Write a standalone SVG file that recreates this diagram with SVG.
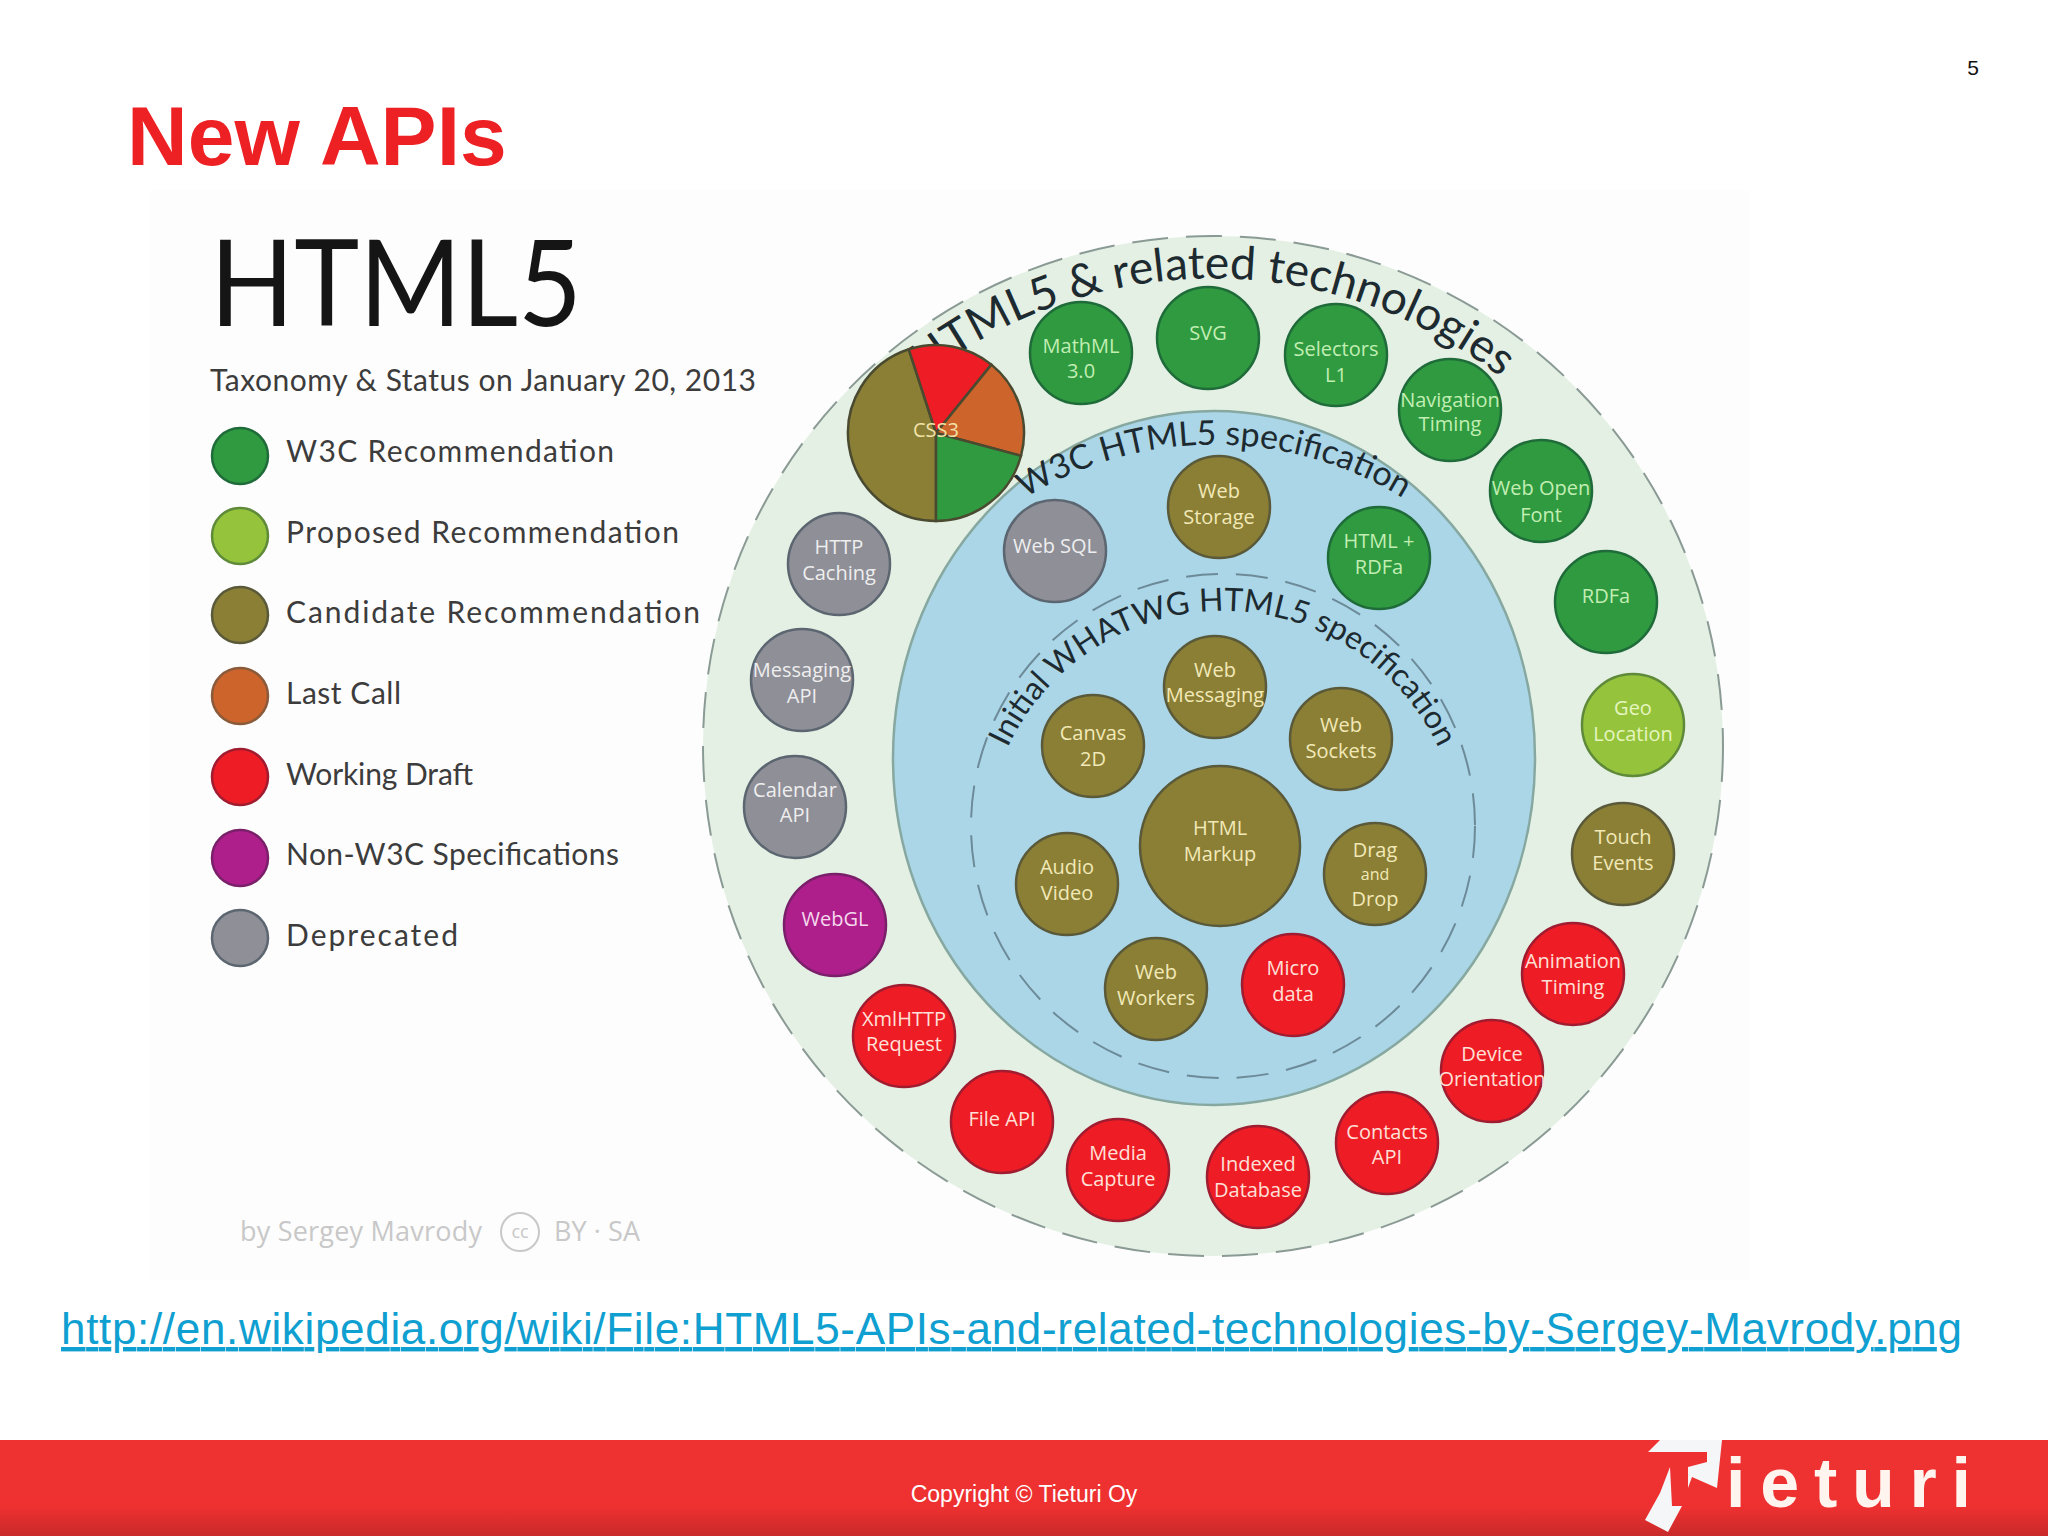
<svg xmlns="http://www.w3.org/2000/svg" width="2048" height="1536" viewBox="0 0 2048 1536">
<defs>
<linearGradient id="bar" x1="0" y1="0" x2="0" y2="1"><stop offset="0" stop-color="#ee3232"/><stop offset=".7" stop-color="#ee3030"/><stop offset="1" stop-color="#c82a2a"/></linearGradient>
<path id="arcOuter" d="M808,512 A468,468 0 0 1 1618,512"/>
<path id="arcW3C" d="M902,625 A360,360 0 0 1 1526,625"/>
<path id="arcWhat" d="M985,849 A238,238 0 0 1 1461,849"/>
</defs>
<style>
text{font-family:"Open Sans","Liberation Sans",sans-serif}
.n{stroke-width:2.5}
.t{font-size:20px;text-anchor:middle}
.g circle{fill:#2f9a3f;stroke:#1f6b3a}.g text{fill:#c2eeb4}
.l circle{fill:#95c43c;stroke:#5f8a3a}.l text{fill:#e6f5c0}
.o circle{fill:#8a7f35;stroke:#5a5a3a}.o text{fill:#f2e9b8}
.r circle{fill:#ee1c25;stroke:#a01c30}.r text{fill:#ffe0d8}
.m circle{fill:#ae1f8b;stroke:#7a1f6a}.m text{fill:#f5d8ee}
.d circle{fill:#8f8f98;stroke:#5c6670}.d text{fill:#eeeeee}
.leg{font-family:Lato,"Open Sans",sans-serif;font-size:30px;fill:#3c3c3c}
.cur{font-family:Lato,"Open Sans",sans-serif;fill:#1d2a30;text-anchor:middle}
.pie{stroke:#4a4a30;stroke-width:2.5}
</style>
<rect width="2048" height="1536" fill="#ffffff"/>
<rect x="150" y="190" width="1600" height="1090" fill="#fdfdfd"/>

<text x="127" y="165" font-family="Liberation Sans" font-weight="700" font-size="84" fill="#ed2024" style="font-family:'Liberation Sans',sans-serif">New APIs</text>
<text x="1973" y="75" style="font-family:'Liberation Sans',sans-serif;font-size:21px;text-anchor:middle" fill="#111">5</text>

<g id="legend">
<text x="210" y="326" textLength="372" lengthAdjust="spacingAndGlyphs" style="font-family:Lato,sans-serif;font-size:120px" fill="#151515">HTML5</text>
<text x="210" y="391" textLength="546" class="leg">Taxonomy &amp; Status on January 20, 2013</text>
<g class="g"><circle class="n" cx="240" cy="456" r="28"/></g><text class="leg" x="286" y="462" textLength="328">W3C Recommendation</text>
<g class="l"><circle class="n" cx="240" cy="536" r="28"/></g><text class="leg" x="286" y="543" textLength="393">Proposed Recommendation</text>
<g class="o"><circle class="n" cx="240" cy="615" r="28"/></g><text class="leg" x="286" y="623" textLength="414">Candidate Recommendation</text>
<circle class="n" cx="240" cy="696" r="28" fill="#cc642c" stroke="#8a5a3a"/><text class="leg" x="286" y="704" textLength="115">Last Call</text>
<g class="r"><circle class="n" cx="240" cy="777" r="28"/></g><text class="leg" x="286" y="785" textLength="187">Working Draft</text>
<g class="m"><circle class="n" cx="240" cy="858" r="28"/></g><text class="leg" x="286" y="865" textLength="333">Non-W3C Specifications</text>
<g class="d"><circle class="n" cx="240" cy="938" r="28"/></g><text class="leg" x="286" y="946" textLength="172">Deprecated</text>
</g>

<g id="credit" fill="#c8c8c8">
<text x="240" y="1241" font-size="27" textLength="242">by Sergey Mavrody</text>
<circle cx="520" cy="1232" r="19" fill="none" stroke="#c8c8c8" stroke-width="2"/>
<text x="520" y="1238" font-size="18" text-anchor="middle">cc</text>
<text x="554" y="1241" font-size="27" textLength="86">BY · SA</text>
</g>

<g id="rings">
<circle cx="1213" cy="746" r="510" fill="#e4f0e4"/>
<circle cx="1213" cy="746" r="510" fill="none" stroke="#8a9a94" stroke-width="2" stroke-dasharray="36 18"/>
<ellipse cx="1214" cy="758" rx="321" ry="347" fill="#aad6e8" stroke="#86a8a0" stroke-width="2.5"/>
<circle cx="1223" cy="826" r="252" fill="none" stroke="#6d8a98" stroke-width="2" stroke-dasharray="32 18"/>
<text class="cur" font-size="46"><textPath href="#arcOuter" startOffset="50%">HTML5 &amp; related technologies</textPath></text>
<text class="cur" font-size="34"><textPath href="#arcW3C" startOffset="50%">W3C HTML5 specification</textPath></text>
<text class="cur" font-size="32"><textPath href="#arcWhat" startOffset="50%">Initial WHATWG HTML5 specification</textPath></text>
</g>

<g id="css3">
<path class="pie" fill="#8a7f35" d="M936,433 L936,521 A88,88 0 0 1 908.8,349.3 Z"/>
<path class="pie" fill="#ee1c25" d="M936,433 L908.8,349.3 A88,88 0 0 1 991.4,364.6 Z"/>
<path class="pie" fill="#cc642c" d="M936,433 L991.4,364.6 A88,88 0 0 1 1021,455.8 Z"/>
<path class="pie" fill="#2f9a3f" d="M936,433 L1021,455.8 A88,88 0 0 1 936,521 Z"/>
<text class="t" x="936" y="437" fill="#f2e2a8">CSS3</text>
</g>

<g id="mathml" class="g"><circle class="n" cx="1081" cy="353" r="51"/><text class="t" x="1081" y="353">MathML</text><text class="t" x="1081" y="378">3.0</text></g>
<g id="svg" class="g"><circle class="n" cx="1208" cy="338" r="51"/><text class="t" x="1208" y="340">SVG</text></g>
<g id="selectors" class="g"><circle class="n" cx="1336" cy="355" r="51"/><text class="t" x="1336" y="356">Selectors</text><text class="t" x="1336" y="382">L1</text></g>
<g id="navigation" class="g"><circle class="n" cx="1450" cy="410" r="51"/><text class="t" x="1450" y="407">Navigation</text><text class="t" x="1450" y="431">Timing</text></g>
<g id="webopenfont" class="g"><circle class="n" cx="1541" cy="491" r="51"/><text class="t" x="1541" y="495">Web Open</text><text class="t" x="1541" y="522">Font</text></g>
<g id="rdfa" class="g"><circle class="n" cx="1606" cy="602" r="51"/><text class="t" x="1606" y="603">RDFa</text></g>
<g id="geo" class="l"><circle class="n" cx="1633" cy="725" r="51"/><text class="t" x="1633" y="715">Geo</text><text class="t" x="1633" y="741">Location</text></g>
<g id="touch" class="o"><circle class="n" cx="1623" cy="854" r="51"/><text class="t" x="1623" y="844">Touch</text><text class="t" x="1623" y="870">Events</text></g>
<g id="animation" class="r"><circle class="n" cx="1573" cy="974" r="51"/><text class="t" x="1573" y="968">Animation</text><text class="t" x="1573" y="994">Timing</text></g>
<g id="device" class="r"><circle class="n" cx="1492" cy="1071" r="51"/><text class="t" x="1492" y="1061">Device</text><text class="t" x="1492" y="1086">Orientation</text></g>
<g id="contacts" class="r"><circle class="n" cx="1387" cy="1143" r="51"/><text class="t" x="1387" y="1139">Contacts</text><text class="t" x="1387" y="1164">API</text></g>
<g id="indexed" class="r"><circle class="n" cx="1258" cy="1177" r="51"/><text class="t" x="1258" y="1171">Indexed</text><text class="t" x="1258" y="1197">Database</text></g>
<g id="media" class="r"><circle class="n" cx="1118" cy="1170" r="51"/><text class="t" x="1118" y="1160">Media</text><text class="t" x="1118" y="1186">Capture</text></g>
<g id="fileapi" class="r"><circle class="n" cx="1002" cy="1122" r="51"/><text class="t" x="1002" y="1126">File API</text></g>
<g id="xhr" class="r"><circle class="n" cx="904" cy="1036" r="51"/><text class="t" x="904" y="1026">XmlHTTP</text><text class="t" x="904" y="1051">Request</text></g>
<g id="webgl" class="m"><circle class="n" cx="835" cy="925" r="51"/><text class="t" x="835" y="926">WebGL</text></g>
<g id="calendar" class="d"><circle class="n" cx="795" cy="807" r="51"/><text class="t" x="795" y="797">Calendar</text><text class="t" x="795" y="822">API</text></g>
<g id="messaging" class="d"><circle class="n" cx="802" cy="680" r="51"/><text class="t" x="802" y="677">Messaging</text><text class="t" x="802" y="703">API</text></g>
<g id="http" class="d"><circle class="n" cx="839" cy="564" r="51"/><text class="t" x="839" y="554">HTTP</text><text class="t" x="839" y="580">Caching</text></g>
<g id="websql" class="d"><circle class="n" cx="1055" cy="551" r="51"/><text class="t" x="1055" y="553">Web SQL</text></g>
<g id="webstorage" class="o"><circle class="n" cx="1219" cy="507" r="51"/><text class="t" x="1219" y="498">Web</text><text class="t" x="1219" y="524">Storage</text></g>
<g id="htmlrdfa" class="g"><circle class="n" cx="1379" cy="558" r="51"/><text class="t" x="1379" y="548">HTML +</text><text class="t" x="1379" y="574">RDFa</text></g>
<g id="webmessaging" class="o"><circle class="n" cx="1215" cy="687" r="51"/><text class="t" x="1215" y="677">Web</text><text class="t" x="1215" y="702">Messaging</text></g>
<g id="canvas" class="o"><circle class="n" cx="1093" cy="746" r="51"/><text class="t" x="1093" y="740">Canvas</text><text class="t" x="1093" y="766">2D</text></g>
<g id="websockets" class="o"><circle class="n" cx="1341" cy="739" r="51"/><text class="t" x="1341" y="732">Web</text><text class="t" x="1341" y="758">Sockets</text></g>
<g id="markup" class="o"><circle class="n" cx="1220" cy="846" r="80"/><text class="t" x="1220" y="835">HTML</text><text class="t" x="1220" y="861">Markup</text></g>
<g id="audiovideo" class="o"><circle class="n" cx="1067" cy="884" r="51"/><text class="t" x="1067" y="874">Audio</text><text class="t" x="1067" y="900">Video</text></g>
<g id="dragdrop" class="o"><circle class="n" cx="1375" cy="874" r="51"/><text class="t" x="1375" y="857">Drag</text><text class="t" x="1375" y="880" style="font-size:16px">and</text><text class="t" x="1375" y="906">Drop</text></g>
<g id="webworkers" class="o"><circle class="n" cx="1156" cy="989" r="51"/><text class="t" x="1156" y="979">Web</text><text class="t" x="1156" y="1005">Workers</text></g>
<g id="microdata" class="r"><circle class="n" cx="1293" cy="985" r="51"/><text class="t" x="1293" y="975">Micro</text><text class="t" x="1293" y="1001">data</text></g>

<text x="61" y="1344" textLength="1901" style="font-family:'Liberation Sans',sans-serif;font-size:44px" fill="#0f9fd0" text-decoration="underline">http://en.wikipedia.org/wiki/File:HTML5-APIs-and-related-technologies-by-Sergey-Mavrody.png</text>

<g id="footer">
<rect x="0" y="1440" width="2048" height="96" fill="url(#bar)"/>
<text x="1024" y="1502" style="font-family:'Liberation Sans',sans-serif;font-size:23px;text-anchor:middle" fill="#ffffff">Copyright © Tieturi Oy</text>
<polygon fill="#f4f6f8" points="1648,1452 1660,1440 1722,1440 1717,1488 1692,1477 1688,1488 1688,1467 1707,1462 1707,1452"/>
<polygon fill="#f4f6f8" points="1670,1467 1672,1506 1682,1506 1668,1532 1645,1520 1660,1493"/>
<text x="1726" y="1507" textLength="245" style="font-family:'Liberation Sans',sans-serif;font-weight:700;font-size:70px" fill="#fff5ee">ieturi</text>
</g>
</svg>
